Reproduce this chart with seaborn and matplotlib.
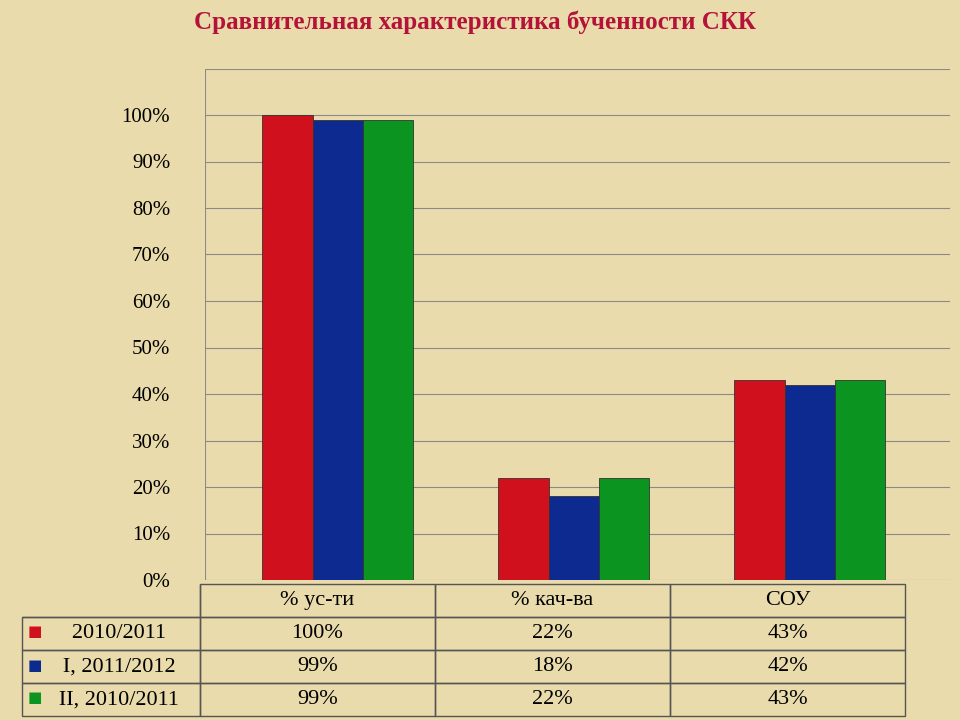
import numpy as np
import pandas as pd
import matplotlib
matplotlib.use("Agg")
import matplotlib.pyplot as plt
import seaborn as sns

categories = ["% ус-ти", "% кач-ва", "СОУ"]
series = ["2010/2011", "I, 2011/2012", "II, 2010/2011"]
values_2010 = [100, 22, 43]
values_2011_1 = [99, 18, 42]
values_2010_2 = [99, 22, 43]
colors = ["#d0101c", "#0c2a90", "#0c9420"]

df = pd.DataFrame({
    "cat": categories * 3,
    "series": [series[0]] * 3 + [series[1]] * 3 + [series[2]] * 3,
    "val": [v / 100 for v in values_2010 + values_2011_1 + values_2010_2],
})

sns.set_theme(style="white")
plt.rcParams["font.family"] = ["Liberation Serif", "DejaVu Serif"]

bg = "#e9dbab"
fig = plt.figure(figsize=(9.6, 7.2), dpi=100, facecolor=bg)
# 0% at y=580 px, 100% at y=115 px
top = 1.10
ax = fig.add_axes([205 / 960, 140 / 720, 745 / 960, 465 * top / 720])
ax.set_facecolor("none")

sns.barplot(data=df, x="cat", y="val", hue="series", palette=colors, saturation=1,
            width=0.64, ax=ax, legend=False, edgecolor="#333333", linewidth=0.6, zorder=3)

ax.set_xlim(-0.563, 2.594)
ax.set_ylim(0, top)
ticks = np.arange(0, 1.01, 0.1)
ax.set_yticks(ticks)
ax.set_yticklabels([f"{int(round(t * 100))}%" for t in ticks], fontsize=15, color="black")
ax.tick_params(axis="y", length=0, pad=25)
ax.set_xticks([])
ax.set_xlabel("")
ax.set_ylabel("")
ax.grid(axis="y", color="#8a8a8a", linewidth=0.8, zorder=0)
ax.axhline(top * 0.999, color="#8a8a8a", linewidth=0.8)
for s in ax.spines.values():
    s.set_visible(False)
ax.axvline(ax.get_xlim()[0], color="#8a8a8a", linewidth=0.8)

fig.text(475 / 960, 1 - 22 / 720, "Сравнительная характеристика бученности СКК",
         ha="center", va="center", fontsize=18, fontweight="bold", color="#b5123a")

# data table
rows = [values_2010, values_2011_1, values_2010_2]
cell_text = [["   " + series[i]] + [f"{v}%" for v in rows[i]] for i in range(3)]
col_labels = [""] + categories
x0 = (22 - 205) / 745
w = (905 - 22) / 745
h = (715 - 583) / (465 * top)
tbl = ax.table(cellText=cell_text, colLabels=col_labels,
               colWidths=[178, 235, 235, 235],
               cellLoc="center", bbox=[x0, -0.008 - h, w, h])
tbl.auto_set_font_size(False)
tbl.set_fontsize(16)
for (r, c), cell in tbl.get_celld().items():
    cell.set_facecolor("none")
    cell.set_edgecolor("#555555")
    cell.get_text().set_color("black")
    if c == 0:
        cell._loc = "left"
    if r == 0 and c == 0:
        cell.visible_edges = "BR"

# coloured squares for the row labels
for i, col in enumerate(colors):
    yc = 1 - (632 + i * 33) / 720
    fig.text(35 / 960, yc, "■", color=col, fontsize=11, ha="center", va="center",
             family="DejaVu Sans")

fig.savefig("out.png", dpi=100, facecolor=bg)
